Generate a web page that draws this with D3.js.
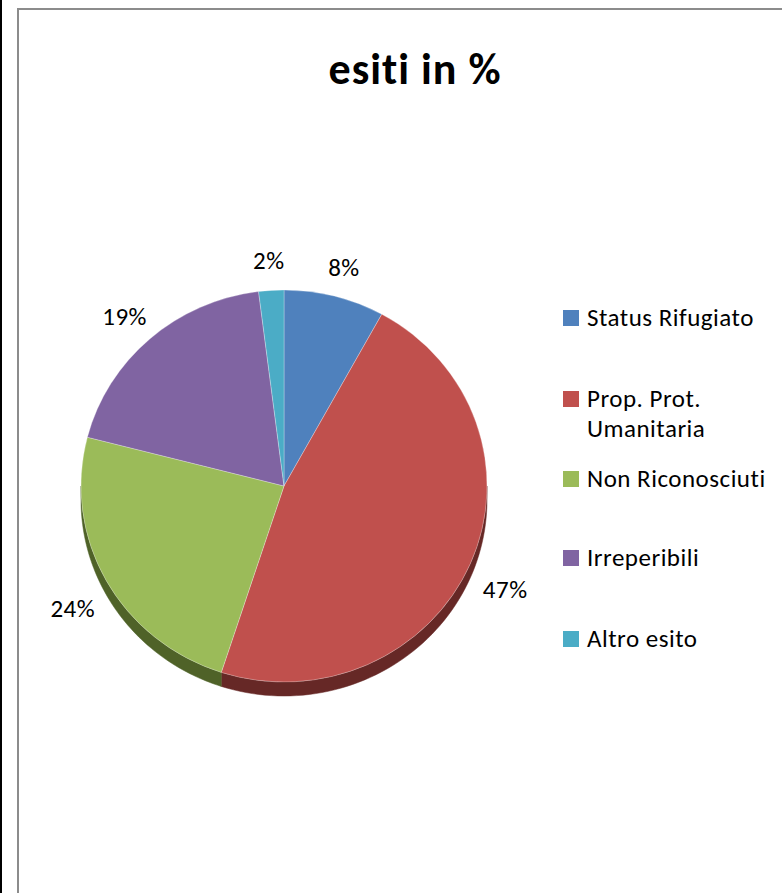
<!DOCTYPE html>
<html><head><meta charset="utf-8">
<script src="https://cdn.jsdelivr.net/npm/d3@7"></script>
<style>body{margin:0;background:#fff;overflow:hidden}svg{display:block}text{font-variant-ligatures:none;font-feature-settings:"liga" 0}</style>
</head><body>
<script>
const categories = ["Status Rifugiato", "Prop. Prot. Umanitaria", "Non Riconosciuti", "Irreperibili", "Altro esito"];
const legendLines = [["Status Rifugiato"], ["Prop. Prot.", "Umanitaria"], ["Non Riconosciuti"], ["Irreperibili"], ["Altro esito"]];
const values = [8, 47, 24, 19, 2];
const labels = ["8%", "47%", "24%", "19%", "2%"];
const colors = ["#4f81bd", "#c0504d", "#9bbb59", "#8064a2", "#4bacc6"];
const sideColors = ["#2c4d75", "#662826", "#4f6228", "#3f3151", "#215968"];
const title = "esiti in %";

const W = 782, H = 893;
const font = "Carlito, Calibri, Lato, 'Open Sans', sans-serif";
const svg = d3.select("body").append("svg").attr("width", W).attr("height", H);

// page decorations
svg.append("rect").attr("x", 0).attr("y", 0).attr("width", 2).attr("height", H).attr("fill", "#000");
svg.append("rect").attr("x", 18).attr("y", 9).attr("width", W + 50).attr("height", H + 50)
  .attr("fill", "#fff").attr("stroke", "#8c8c8c").attr("stroke-width", 2);

svg.append("text").attr("x", 415).attr("y", 84).attr("text-anchor", "middle")
  .attr("font-family", font).attr("font-weight", "bold").attr("font-size", 44)
  .attr("letter-spacing", 1).attr("fill", "#000").text(title);

const cx = 284, cy = 486, rx = 203, ry = 196, depth = 14;
const pie = d3.pie().sort(null).value(d => d);
const arcs = pie(values);
const pt = (a, yoff = 0) => [cx + rx * Math.sin(a), cy + yoff - ry * Math.cos(a)];

// side walls (visible bottom half: angles between PI/2 and 3PI/2)
const g = svg.append("g");
arcs.forEach((d, i) => {
  const a0 = Math.max(d.startAngle, Math.PI / 2), a1 = Math.min(d.endAngle, 3 * Math.PI / 2);
  if (a1 <= a0) return;
  const n = 60, top = [], bot = [];
  for (let k = 0; k <= n; k++) {
    const a = a0 + (a1 - a0) * k / n;
    top.push(pt(a)); bot.push(pt(a, depth));
  }
  const poly = top.concat(bot.reverse());
  g.append("path").attr("d", d3.line()(poly) + "Z").attr("fill", sideColors[i])
    .attr("stroke", sideColors[i]).attr("stroke-width", 0.5);
});

// top face
const arc = d3.arc().innerRadius(0).outerRadius(rx);
const topG = svg.append("g").attr("transform", `translate(${cx},${cy}) scale(1,${ry / rx})`);
topG.selectAll("path").data(arcs).join("path")
  .attr("d", arc).attr("fill", (d, i) => colors[i])
  .attr("stroke", "rgba(255,255,255,0.35)").attr("stroke-width", 0.8)
  .attr("vector-effect", "non-scaling-stroke");

// labels
arcs.forEach((d, i) => {
  const a = (d.startAngle + d.endAngle) / 2;
  const dx = Math.sin(a), dy = -Math.cos(a);
  const p = pt(a);
  const x = p[0] + dx * 38;
  const y = p[1] + dy * 30 + (dy > 0 ? depth : 0);
  svg.append("text").attr("x", x).attr("y", y).attr("text-anchor", "middle").attr("dominant-baseline", "central")
    .attr("font-family", font).attr("font-size", 25).attr("letter-spacing", 0.5).attr("fill", "#000").text(labels[i]);
});

// legend
const legendY = [318, 399, 479, 558, 639];
const lg = svg.append("g");
categories.forEach((c, i) => {
  lg.append("rect").attr("x", 563).attr("y", legendY[i] - 8).attr("width", 16).attr("height", 16).attr("fill", colors[i]);
  legendLines[i].forEach((t, j) => {
    lg.append("text").attr("x", 587).attr("y", legendY[i] + 8 + j * 30)
      .attr("font-family", font).attr("font-size", 25).attr("letter-spacing", 0.5).attr("fill", "#000").text(t);
  });
});
</script>
</body></html>
